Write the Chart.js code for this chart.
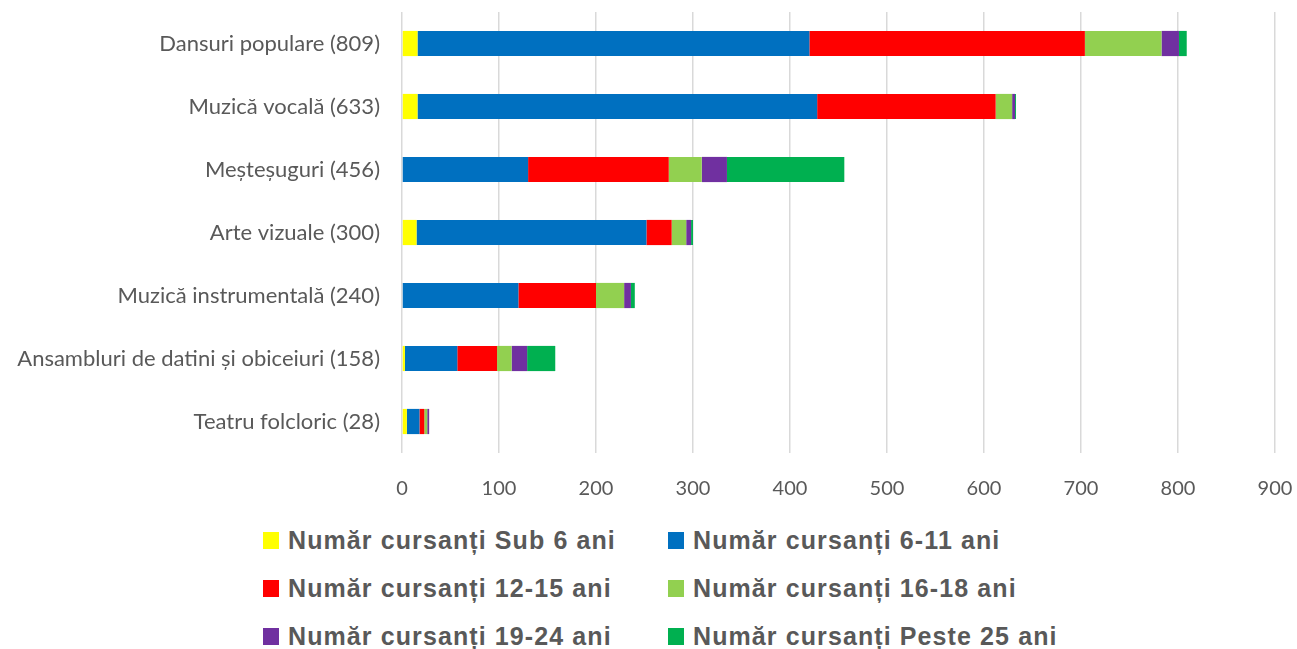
<!DOCTYPE html>
<html>
<head>
<meta charset="utf-8">
<script src="https://cdn.jsdelivr.net/npm/chart.js@4.4.1/dist/chart.umd.min.js"></script>
<style>
  html, body { margin: 0; padding: 0; background: #fff; }
  #wrap { position: relative; width: 1297px; height: 649px; }
  #chartBox { position: absolute; left: 0; top: 0; width: 1297px; height: 515px; }
  #legend {
    position: absolute; left: 263px; top: 524px;
    display: grid; grid-template-columns: 405px 400px; row-gap: 16px;
    font-family: "Liberation Sans", Arial, sans-serif; font-weight: bold;
    font-size: 25px; letter-spacing: 1.1px; color: #595959;
  }
  .item { display: flex; align-items: center; height: 32px; white-space: nowrap; }
  .box { width: 16px; height: 17px; margin-right: 9px; }
</style>
</head>
<body>
<div id="wrap">
  <div id="chartBox"><canvas id="chart"></canvas></div>
  <div id="legend"></div>
</div>
<script>
// Categories (top to bottom)
const categories = [
  'Dansuri populare (809)',
  'Muzică vocală (633)',
  'Meșteșuguri (456)',
  'Arte vizuale (300)',
  'Muzică instrumentală (240)',
  'Ansambluri de datini și obiceiuri (158)',
  'Teatru folcloric (28)'
];

// Series labels and colours
const seriesNames = [
  'Număr cursanți Sub 6 ani',
  'Număr cursanți 6-11 ani',
  'Număr cursanți 12-15 ani',
  'Număr cursanți 16-18 ani',
  'Număr cursanți 19-24 ani',
  'Număr cursanți Peste 25 ani'
];
const seriesColors = ['#FFFF00', '#0070C0', '#FF0000', '#92D050', '#7030A0', '#00B050'];

// Values
const sub6 = [16, 16, 0, 15, 0, 3, 5];
const age6to11 = [404, 412, 130, 237, 120, 54, 13];
const age12to15 = [284, 184, 145, 26, 80, 41, 5];
const age16to18 = [79, 17, 34, 15, 29, 15, 3];
const age19to24 = [18, 3, 26, 5, 7, 16, 2];
const peste25 = [8, 1, 121, 2, 4, 29, 0];

const xTicks = [0, 100, 200, 300, 400, 500, 600, 700, 800, 900];

const seriesData = [sub6, age6to11, age12to15, age16to18, age19to24, peste25];

const datasets = seriesNames.map((name, i) => ({
  label: name,
  data: seriesData[i],
  backgroundColor: seriesColors[i],
  borderWidth: 0,
  categoryPercentage: 1,
  barPercentage: 0.4
}));

const textColor = '#595959';
const labelFont = "Lato, 'Open Sans', sans-serif";

new Chart(document.getElementById('chart'), {
  type: 'bar',
  data: { labels: categories, datasets: datasets },
  options: {
    indexAxis: 'y',
    responsive: true,
    maintainAspectRatio: false,
    animation: false,
    layout: { padding: { top: 12, right: 22, left: 0, bottom: 0 } },
    plugins: {
      legend: { display: false },
      tooltip: { enabled: false }
    },
    scales: {
      x: {
        stacked: true,
        min: 0,
        max: 900,
        afterBuildTicks: (scale) => { scale.ticks = xTicks.map(v => ({ value: v })); },
        grid: { color: '#d9d9d9', lineWidth: 1.5, drawTicks: false },
        border: { display: false },
        ticks: { color: textColor, font: { family: labelFont, size: 20 }, padding: 24 },
        afterFit: (scale) => {
          scale.height = 62;
          scale.paddingLeft = 0;
          scale.paddingRight = 0;
        }
      },
      y: {
        stacked: true,
        grid: { display: false, drawTicks: false },
        border: { display: false },
        ticks: { color: textColor, font: { family: labelFont, size: 22 }, padding: 22 },
        afterFit: (scale) => {
          scale.width = 402;
          scale.paddingTop = 0;
          scale.paddingBottom = 0;
        }
      }
    }
  }
});

// Legend in two columns, as in the picture
const legend = document.getElementById('legend');
seriesNames.forEach((name, i) => {
  const item = document.createElement('div');
  item.className = 'item';
  const box = document.createElement('span');
  box.className = 'box';
  box.style.background = seriesColors[i];
  const txt = document.createElement('span');
  txt.textContent = name;
  item.appendChild(box);
  item.appendChild(txt);
  legend.appendChild(item);
});
</script>
</body>
</html>
